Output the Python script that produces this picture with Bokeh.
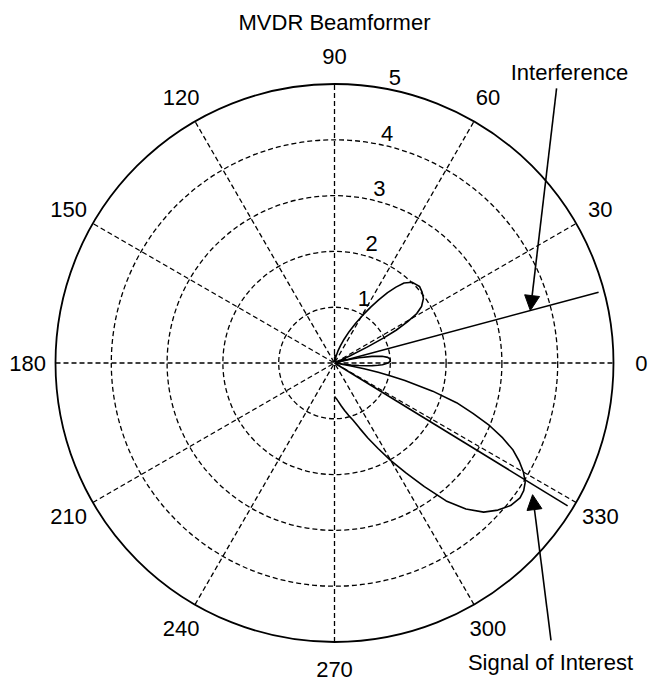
import numpy as np
from bokeh.plotting import figure
from bokeh.models import Range1d, Arrow, NormalHead
from bokeh.core.properties import value
from bokeh.embed import file_html
from bokeh.resources import INLINE

# ---------------- data ----------------
chart_title = "MVDR Beamformer"

theta_deg = [-90, -87, -84, -81, -78, -75, -72, -69, -66, -63, -60, -57, -54, -51,
             -48, -45, -42, -39, -36, -34, -32, -30, -28, -26, -24, -22, -20, -18,
             -16, -14, -13, -12, -11, -10, -9, -8, -7, -6, -5, -4, -3, -2, 0, 2, 4,
             6, 8, 10, 12, 13, 14, 15, 16, 18, 20, 22, 23, 24, 25, 26, 27, 28, 29.5,
             31, 33, 36, 39, 42, 46, 49, 51, 53, 55, 57, 59.5, 62, 65, 68, 71, 74,
             77, 80, 83, 86, 90]
magnitude = [0.60, 0.64, 0.70, 0.78, 0.87, 0.97, 1.08, 1.25, 1.47, 1.72, 2.02, 2.35,
             2.74, 3.18, 3.52, 3.78, 3.94, 4.06, 4.11, 4.09, 4.03, 3.91, 3.75, 3.56,
             3.30, 3.00, 2.64, 2.30, 1.83, 1.30, 1.05, 0.80, 0.54, 0.28, 0.03, 0.15,
             0.30, 0.44, 0.57, 0.68, 0.78, 0.86, 0.96, 1.00, 1.00, 0.96, 0.86, 0.68,
             0.45, 0.32, 0.17, 0.02, 0.08, 0.18, 0.22, 0.15, 0.08, 0.02, 0.30, 0.65,
             1.00, 1.25, 1.50, 1.72, 1.86, 1.97, 2.02, 2.05, 2.01, 1.90, 1.75, 1.58,
             1.38, 1.20, 0.99, 0.80, 0.62, 0.46, 0.33, 0.22, 0.12, 0.04, 0.06, 0.12,
             0.16]

ring_values = [1, 2, 3, 4]
ring_labels = ["1", "2", "3", "4", "5"]
r_max = 5
spoke_angles = [0, 30, 60, 90, 120, 150]
angle_ticks = [0, 30, 60, 90, 120, 150, 180, 210, 240, 270, 300, 330]
angle_tick_labels = ["0", "30", "60", "90", "120", "150", "180", "210", "240",
                     "270", "300", "330"]

signal_angle = -31.5
signal_length = 4.9
interference_angle = 15.0
interference_length = 4.9

# ---------------- layout ----------------
W, H = 649, 682
PX = 55.8          # pixels per radial unit
CX, CY = 334.0, 362.5  # centre position inside the canvas
FONT = value("Liberation Sans")
FS = "22px"

p = figure(width=W, height=H,
           x_range=Range1d(-CX / PX, (W - CX) / PX),
           y_range=Range1d(-(H - CY) / PX, CY / PX),
           output_backend="svg", toolbar_location=None,
           x_axis_location=None, y_axis_location=None, min_border=0)
p.outline_line_color = None
p.grid.grid_line_color = None
p.background_fill_color = "white"
p.border_fill_color = "white"

# dashed rings
p.circle(x=[0] * len(ring_values), y=[0] * len(ring_values), radius=ring_values,
         fill_color=None, line_color="black", line_width=1.3, line_dash="5 3")
# spokes
sa = np.deg2rad(spoke_angles)
p.multi_line(xs=[[-r_max * np.cos(a), r_max * np.cos(a)] for a in sa],
             ys=[[-r_max * np.sin(a), r_max * np.sin(a)] for a in sa],
             line_color="black", line_width=1.3, line_dash="5 3")
# outer solid circle
p.circle(x=[0], y=[0], radius=[r_max], fill_color=None, line_color="black",
         line_width=1.8)

# radial labels
rl = np.array([1, 2, 3, 4, 5]) + 0.05
c82, s82 = np.cos(np.deg2rad(82)), np.sin(np.deg2rad(82))
p.text(x=rl * c82 + 0.27, y=rl * s82 + 0.11, text=ring_labels, text_font=FONT,
       text_font_size=FS, text_align="left", text_baseline="alphabetic",
       text_color="black")

# angle labels
ta = np.deg2rad(angle_ticks)
r_lab = 1.1 * r_max
p.text(x=r_lab * np.cos(ta), y=r_lab * np.sin(ta), text=angle_tick_labels,
       text_font=FONT, text_font_size=FS, text_align="center",
       text_baseline="middle", text_color="black")

# beam pattern
th = np.deg2rad(theta_deg)
mag = np.array(magnitude)
p.line(mag * np.cos(th), mag * np.sin(th), line_color="black", line_width=1.6)

# signal & interference direction lines
for ang, ln in [(signal_angle, signal_length), (interference_angle, interference_length)]:
    a = np.deg2rad(ang)
    p.line([0, ln * np.cos(a)], [0, ln * np.sin(a)], line_color="black",
           line_width=1.6)

# title
p.text(x=[0], y=[6.11], text=[chart_title], text_font=FONT, text_font_size=FS,
       text_align="center", text_baseline="alphabetic", text_color="black")

# annotations
p.text(x=[4.21], y=[5.206], text=["Interference"], text_font=FONT,
       text_font_size=FS, text_align="center", text_baseline="alphabetic",
       text_color="black")
p.text(x=[3.87], y=[-5.36], text=["Signal of Interest"], text_font=FONT,
       text_font_size=FS, text_align="center", text_baseline="alphabetic",
       text_color="black")

p.add_layout(Arrow(end=NormalHead(size=15, fill_color="black", line_color="black",
                                  line_width=1),
                   x_start=3.98, y_start=4.92, x_end=3.51, y_end=0.94,
                   line_color="black", line_width=1.6))
p.add_layout(Arrow(end=NormalHead(size=15, fill_color="black", line_color="black",
                                  line_width=1),
                   x_start=3.88, y_start=-4.97, x_end=3.55, y_end=-2.36,
                   line_color="black", line_width=1.6))

open("out.html", "w").write(file_html(p, INLINE))
